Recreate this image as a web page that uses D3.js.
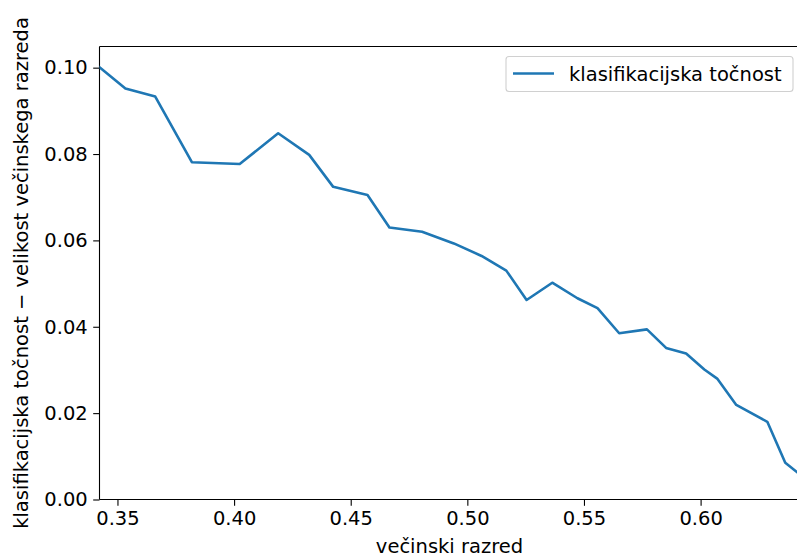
<!DOCTYPE html>
<html><head><meta charset="utf-8">
<script src="https://cdn.jsdelivr.net/npm/d3@7"></script>
<style>body{margin:0;background:#fff}svg{display:block}text{font-family:"DejaVu Sans",sans-serif;fill:#000}</style>
</head><body><svg id="c" width="797" height="558"></svg>
<script>
const xValues = [0.3423,0.3534,0.3662,0.3819,0.4024,0.4189,0.4322,0.4425,0.4572,0.4666,0.4806,0.4942,0.5061,0.5167,0.5254,0.5364,0.5472,0.5558,0.5651,0.5770,0.5852,0.5938,0.6016,0.6071,0.6153,0.6286,0.6363,0.6424];
const yValues = [0.1001,0.0952,0.0933,0.0781,0.0777,0.0848,0.0798,0.0724,0.0705,0.0630,0.0620,0.0593,0.0564,0.0530,0.0462,0.0502,0.0466,0.0443,0.0385,0.0394,0.0351,0.0338,0.0301,0.0280,0.0219,0.0180,0.0085,0.0059];
const xTicks = [0.35,0.40,0.45,0.50,0.55,0.60];
const yTicks = [0.00,0.02,0.04,0.06,0.08,0.10];
const seriesName = "klasifikacijska točnost";
const xLabel = "večinski razred";
const yLabel = "klasifikacijska točnost \u2212 velikost večinskega razreda";

const L=99.5, R=799.5, T=46.5, B=499.5;
const svg = d3.select("#c");
const x = d3.scaleLinear().domain([xValues[0], xValues[xValues.length-1]]).range([L,R]);
const y = d3.scaleLinear().domain([0, 0.1049]).range([B,T]);

const fs = 19.5;
const xa = svg.append("g").attr("transform",`translate(0,${B})`)
  .call(d3.axisBottom(x).tickValues(xTicks).tickFormat(d3.format(".2f")).tickSize(6.3).tickPadding(5));
const ya = svg.append("g").attr("transform",`translate(${L},0)`)
  .call(d3.axisLeft(y).tickValues(yTicks).tickFormat(d3.format(".2f")).tickSize(6.3).tickPadding(5.5));
[xa,ya].forEach(a=>{
  a.select(".domain").remove();
  a.selectAll("line").attr("stroke","#000").attr("stroke-width",1.1);
  a.selectAll("text").style("font-size",fs+"px").attr("fill","#000").style("font-family","DejaVu Sans");
});
// spines
svg.append("line").attr("x1",L).attr("x2",L).attr("y1",T).attr("y2",B).attr("stroke","#000").attr("stroke-width",1.1);
svg.append("line").attr("x1",L).attr("x2",R).attr("y1",B).attr("y2",B).attr("stroke","#000").attr("stroke-width",1.1);
svg.append("line").attr("x1",L).attr("x2",R).attr("y1",T).attr("y2",T).attr("stroke","#000").attr("stroke-width",1.1);
svg.append("line").attr("x1",R).attr("x2",R).attr("y1",T).attr("y2",B).attr("stroke","#000").attr("stroke-width",1.1);

const clip = svg.append("clipPath").attr("id","cp").append("rect").attr("x",L).attr("y",T).attr("width",R-L).attr("height",B-T);
const data = xValues.map((v,i)=>[v,yValues[i]]);
svg.append("path").datum(data).attr("clip-path","url(#cp)")
  .attr("d",d3.line().x(d=>x(d[0])).y(d=>y(d[1])))
  .attr("fill","none").attr("stroke","#1f77b4").attr("stroke-width",2.6).attr("stroke-linejoin","round").attr("stroke-linecap","square");

svg.append("text").attr("x",(L+R)/2).attr("y",553).attr("text-anchor","middle").style("font-size",fs+"px").text(xLabel);
svg.append("text").attr("transform",`translate(28,${(T+B)/2}) rotate(-90)`).attr("text-anchor","middle").style("font-size",fs+"px").text(yLabel);

// legend
const lg = svg.append("g");
lg.append("rect").attr("x",506).attr("y",56.5).attr("width",287).attr("height",35).attr("rx",3)
  .attr("fill","#fff").attr("fill-opacity",0.8).attr("stroke","#d0d0d0").attr("stroke-width",1.1);
lg.append("line").attr("x1",513).attr("x2",554).attr("y1",73.5).attr("y2",73.5).attr("stroke","#1f77b4").attr("stroke-width",2.6);
lg.append("text").attr("x",569).attr("y",80.5).style("font-size",fs+"px").text(seriesName);
</script></body></html>
